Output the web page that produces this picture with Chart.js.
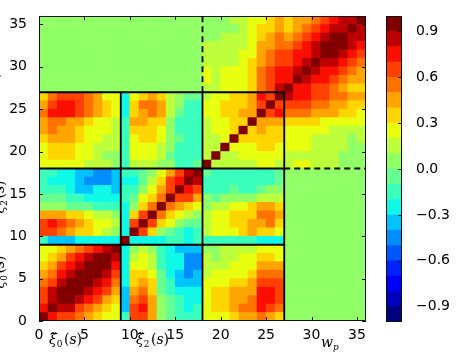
<!DOCTYPE html>
<html lang="en">
<head>
<meta charset="UTF-8">
<title>Correlation matrix</title>
<script src="https://cdn.jsdelivr.net/npm/chart.js"></script>
<style>
  html, body { margin: 0; padding: 0; background: #fff; }
  #wrap { position: relative; width: 464px; height: 357px; }
  canvas { position: absolute; left: 0; top: 0; }
</style>
</head>
<body>
<div id="wrap">
  <canvas id="heat" width="464" height="357"></canvas>
  <canvas id="cbar" width="464" height="357"></canvas>
</div>
<script>
// tick labels
const xTicks = [0, 5, 10, 15, 20, 25, 30, 35];
const yTicks = [0, 5, 10, 15, 20, 25, 30, 35];
const cbTicks = [-0.9, -0.6, -0.3, 0, 0.3, 0.6, 0.9];
// colour levels of the colorbar (20 bands from -1 to 1)
const levelEdges = [-1, -0.9, -0.8, -0.7, -0.6, -0.5, -0.4, -0.3, -0.2, -0.1, 0,
                    0.1, 0.2, 0.3, 0.4, 0.5, 0.6, 0.7, 0.8, 0.9, 1];
// block boundaries: xi0 | xi2 | third block | w_p
const blockEdges = [9, 18, 27];
const nCells = 36;

// corr[j][i] : row j = y band j (bottom to top), column i = x band i
const corr = [
  [1,0.75,0.65,0.65,0.55,0.45,0.35,0.25,0.25,  -0.15,0.65,0.65,0.45,0.05,-0.05,-0.15,-0.15,-0.15,  0.25,0.25,0.25,0.35,0.45,0.45,0.55,0.45,0.35,  0.05,0.05,0.05,0.05,0.05,0.05,0.05,0.05,0.05],
  [0.75,1,0.85,0.85,0.65,0.55,0.45,0.35,0.25,  -0.35,0.65,0.75,0.45,0.05,-0.05,-0.15,-0.25,-0.15,  0.25,0.35,0.35,0.45,0.55,0.55,0.75,0.65,0.55,  0.05,0.05,0.05,0.05,0.05,0.05,0.05,0.05,0.05],
  [0.65,0.85,1,0.95,0.85,0.75,0.65,0.45,0.35,  -0.35,0.55,0.65,0.45,0.05,-0.05,-0.15,-0.25,-0.25,  0.25,0.35,0.35,0.45,0.45,0.55,0.75,0.75,0.65,  0.05,0.05,0.05,0.05,0.05,0.05,0.05,0.05,0.05],
  [0.65,0.85,0.95,1,0.95,0.85,0.75,0.65,0.45,  -0.35,0.45,0.55,0.35,-0.05,-0.15,-0.25,-0.25,-0.25,  0.25,0.35,0.35,0.45,0.45,0.45,0.75,0.75,0.65,  0.05,0.05,0.05,0.05,0.05,0.05,0.05,0.05,0.05],
  [0.55,0.65,0.85,0.95,1,0.95,0.85,0.75,0.55,  -0.25,0.35,0.45,0.35,-0.05,-0.15,-0.35,-0.35,-0.35,  0.25,0.25,0.25,0.35,0.35,0.45,0.65,0.65,0.65,  0.05,0.05,0.05,0.05,0.05,0.05,0.05,0.05,0.05],
  [0.45,0.55,0.75,0.85,0.95,1,0.95,0.85,0.65,  -0.25,0.35,0.35,0.25,-0.05,-0.25,-0.35,-0.45,-0.35,  0.15,0.25,0.25,0.25,0.25,0.35,0.55,0.55,0.55,  0.05,0.05,0.05,0.05,0.05,0.05,0.05,0.05,0.05],
  [0.35,0.45,0.65,0.75,0.85,0.95,1,0.95,0.75,  -0.25,0.25,0.25,0.15,-0.15,-0.25,-0.25,-0.45,-0.45,  0.15,0.15,0.15,0.25,0.25,0.25,0.45,0.45,0.45,  0.05,0.05,0.05,0.05,0.05,0.05,0.05,0.05,0.05],
  [0.25,0.35,0.45,0.65,0.75,0.85,0.95,1,0.85,  -0.25,0.15,0.25,0.15,-0.15,-0.25,-0.25,-0.45,-0.45,  0.15,0.05,0.15,0.15,0.25,0.25,0.35,0.35,0.25,  0.05,0.05,0.05,0.05,0.05,0.05,0.05,0.05,0.05],
  [0.25,0.25,0.35,0.45,0.55,0.65,0.75,0.85,1,  -0.25,0.05,0.15,0.05,-0.15,-0.25,-0.35,-0.35,-0.35,  0.05,0.05,0.15,0.15,0.15,0.15,0.25,0.25,0.25,  0.05,0.05,0.05,0.05,0.05,0.05,0.05,0.05,0.05],
  [-0.15,-0.35,-0.35,-0.35,-0.25,-0.25,-0.25,-0.25,-0.25,  1,-0.25,-0.25,-0.25,-0.25,-0.15,-0.15,-0.25,-0.15,  -0.15,-0.15,-0.15,-0.15,-0.15,-0.15,-0.25,-0.25,-0.25,  0.05,0.05,0.05,0.05,0.05,0.05,0.05,0.05,0.05],
  [0.65,0.65,0.55,0.45,0.35,0.35,0.25,0.15,0.05,  -0.25,1,0.65,0.35,0.05,-0.05,-0.15,-0.25,-0.15,  0.15,0.25,0.25,0.25,0.35,0.45,0.35,0.35,0.25,  0.05,0.05,0.05,0.05,0.05,0.05,0.05,0.05,0.05],
  [0.65,0.75,0.65,0.55,0.45,0.35,0.25,0.25,0.15,  -0.25,0.65,1,0.65,0.35,0.25,0.05,-0.05,-0.05,  0.15,0.25,0.25,0.35,0.35,0.45,0.45,0.55,0.35,  0.05,0.05,0.05,0.05,0.05,0.05,0.05,0.05,0.05],
  [0.45,0.45,0.45,0.35,0.35,0.25,0.15,0.15,0.05,  -0.25,0.35,0.65,1,0.55,0.35,0.25,0.15,0.05,  0.15,0.25,0.25,0.35,0.35,0.35,0.55,0.55,0.45,  0.05,0.05,0.05,0.05,0.05,0.05,0.05,0.05,0.05],
  [0.05,0.05,0.05,-0.05,-0.05,-0.05,-0.15,-0.15,-0.15,  -0.25,0.05,0.35,0.55,1,0.55,0.45,0.35,0.25,  0.05,0.15,0.15,0.25,0.25,0.35,0.45,0.45,0.35,  0.05,0.05,0.05,0.05,0.05,0.05,0.05,0.05,0.05],
  [-0.05,-0.05,-0.05,-0.15,-0.15,-0.25,-0.25,-0.25,-0.25,  -0.15,-0.05,0.25,0.35,0.55,1,0.65,0.65,0.45,  0.05,-0.05,0.05,0.05,0.05,0.05,0.15,0.15,0.15,  0.05,0.05,0.05,0.05,0.05,0.05,0.05,0.05,0.05],
  [-0.15,-0.15,-0.15,-0.25,-0.35,-0.35,-0.25,-0.25,-0.35,  -0.15,-0.15,0.05,0.25,0.45,0.65,1,0.75,0.65,  -0.15,-0.15,-0.15,-0.05,-0.15,-0.15,-0.05,0.05,0.05,  0.05,0.05,0.05,0.05,0.05,0.05,0.05,0.05,0.05],
  [-0.15,-0.25,-0.25,-0.25,-0.35,-0.45,-0.45,-0.45,-0.35,  -0.25,-0.25,-0.05,0.15,0.35,0.65,0.75,1,0.85,  -0.15,-0.15,-0.15,-0.15,-0.15,-0.15,-0.15,-0.15,-0.05,  0.05,0.05,0.05,0.05,0.05,0.05,0.05,0.05,0.05],
  [-0.15,-0.15,-0.25,-0.25,-0.35,-0.35,-0.45,-0.45,-0.35,  -0.15,-0.15,-0.05,0.05,0.25,0.45,0.65,0.85,1,  -0.05,-0.15,-0.15,-0.15,-0.15,-0.15,-0.15,-0.15,-0.05,  0.05,0.05,0.05,0.05,0.05,0.05,0.05,0.05,0.05],
  [0.25,0.25,0.25,0.25,0.25,0.15,0.15,0.15,0.05,  -0.15,0.15,0.15,0.15,0.05,0.05,-0.15,-0.15,-0.05,  1,0.15,0.15,0.15,0.15,0.15,0.25,0.25,0.15,  0.15,0.25,0.25,0.15,0.15,0.15,0.05,0.05,0.05],
  [0.25,0.35,0.35,0.35,0.25,0.25,0.15,0.05,0.05,  -0.15,0.25,0.25,0.25,0.15,-0.05,-0.15,-0.15,-0.15,  0.15,1,0.15,0.15,0.25,0.25,0.25,0.25,0.25,  0.15,0.15,0.15,0.15,0.15,0.15,0.05,0.05,0.05],
  [0.25,0.35,0.35,0.35,0.25,0.25,0.15,0.15,0.15,  -0.15,0.25,0.25,0.25,0.15,0.05,-0.15,-0.15,-0.15,  0.15,0.15,1,0.25,0.25,0.25,0.35,0.35,0.25,  0.25,0.25,0.25,0.15,0.15,0.15,0.15,0.05,0.05],
  [0.35,0.45,0.45,0.45,0.35,0.25,0.25,0.15,0.15,  -0.15,0.25,0.35,0.35,0.25,0.05,-0.05,-0.15,-0.15,  0.15,0.15,0.25,1,0.35,0.35,0.35,0.35,0.35,  0.25,0.25,0.25,0.15,0.15,0.15,0.15,0.05,0.15],
  [0.45,0.55,0.45,0.45,0.35,0.25,0.25,0.25,0.15,  -0.15,0.35,0.35,0.35,0.25,0.05,-0.15,-0.15,-0.15,  0.15,0.25,0.25,0.35,1,0.35,0.45,0.35,0.35,  0.25,0.25,0.25,0.25,0.25,0.15,0.15,0.15,0.15],
  [0.45,0.55,0.55,0.45,0.45,0.35,0.25,0.25,0.15,  -0.15,0.45,0.45,0.35,0.35,0.05,-0.15,-0.15,-0.15,  0.15,0.25,0.25,0.35,0.35,1,0.45,0.45,0.45,  0.35,0.35,0.35,0.35,0.25,0.25,0.25,0.25,0.25],
  [0.55,0.75,0.75,0.75,0.65,0.55,0.45,0.35,0.25,  -0.25,0.35,0.45,0.55,0.45,0.15,-0.05,-0.15,-0.15,  0.25,0.25,0.35,0.35,0.45,0.45,1,0.65,0.75,  0.55,0.55,0.55,0.45,0.45,0.45,0.35,0.35,0.25],
  [0.45,0.65,0.75,0.75,0.65,0.55,0.45,0.35,0.25,  -0.25,0.35,0.55,0.55,0.45,0.15,0.05,-0.15,-0.15,  0.25,0.25,0.35,0.35,0.35,0.45,0.65,1,0.65,  0.65,0.65,0.65,0.55,0.55,0.45,0.45,0.35,0.35],
  [0.35,0.55,0.65,0.65,0.65,0.55,0.45,0.25,0.25,  -0.25,0.25,0.35,0.45,0.35,0.15,0.05,-0.05,-0.05,  0.15,0.25,0.25,0.35,0.35,0.45,0.75,0.65,1,  0.85,0.75,0.75,0.65,0.65,0.55,0.55,0.45,0.45],
  [0.05,0.05,0.05,0.05,0.05,0.05,0.05,0.05,0.05,  0.05,0.05,0.05,0.05,0.05,0.05,0.05,0.05,0.05,  0.15,0.15,0.25,0.25,0.25,0.35,0.55,0.65,0.85,  1,0.75,0.75,0.65,0.65,0.55,0.45,0.35,0.35],
  [0.05,0.05,0.05,0.05,0.05,0.05,0.05,0.05,0.05,  0.05,0.05,0.05,0.05,0.05,0.05,0.05,0.05,0.05,  0.25,0.15,0.25,0.25,0.25,0.35,0.55,0.65,0.75,  0.75,1,0.85,0.75,0.75,0.65,0.55,0.45,0.45],
  [0.05,0.05,0.05,0.05,0.05,0.05,0.05,0.05,0.05,  0.05,0.05,0.05,0.05,0.05,0.05,0.05,0.05,0.05,  0.25,0.15,0.25,0.25,0.25,0.35,0.55,0.65,0.75,  0.75,0.85,1,0.85,0.75,0.75,0.65,0.55,0.45],
  [0.05,0.05,0.05,0.05,0.05,0.05,0.05,0.05,0.05,  0.05,0.05,0.05,0.05,0.05,0.05,0.05,0.05,0.05,  0.15,0.15,0.15,0.15,0.25,0.35,0.45,0.55,0.65,  0.65,0.75,0.85,1,0.85,0.85,0.75,0.65,0.55],
  [0.05,0.05,0.05,0.05,0.05,0.05,0.05,0.05,0.05,  0.05,0.05,0.05,0.05,0.05,0.05,0.05,0.05,0.05,  0.15,0.15,0.15,0.15,0.25,0.25,0.45,0.55,0.65,  0.65,0.75,0.75,0.85,1,0.95,0.85,0.75,0.65],
  [0.05,0.05,0.05,0.05,0.05,0.05,0.05,0.05,0.05,  0.05,0.05,0.05,0.05,0.05,0.05,0.05,0.05,0.05,  0.15,0.15,0.15,0.15,0.15,0.25,0.45,0.45,0.55,  0.55,0.65,0.75,0.85,0.95,1,0.95,0.85,0.75],
  [0.05,0.05,0.05,0.05,0.05,0.05,0.05,0.05,0.05,  0.05,0.05,0.05,0.05,0.05,0.05,0.05,0.05,0.05,  0.05,0.05,0.15,0.15,0.15,0.25,0.35,0.45,0.55,  0.45,0.55,0.65,0.75,0.85,0.95,1,0.85,0.85],
  [0.05,0.05,0.05,0.05,0.05,0.05,0.05,0.05,0.05,  0.05,0.05,0.05,0.05,0.05,0.05,0.05,0.05,0.05,  0.05,0.05,0.05,0.05,0.15,0.25,0.35,0.35,0.45,  0.35,0.45,0.55,0.65,0.75,0.85,0.85,1,0.85],
  [0.05,0.05,0.05,0.05,0.05,0.05,0.05,0.05,0.05,  0.05,0.05,0.05,0.05,0.05,0.05,0.05,0.05,0.05,  0.05,0.05,0.05,0.15,0.15,0.25,0.25,0.35,0.45,  0.35,0.45,0.45,0.55,0.65,0.75,0.85,0.85,1]
];

// jet colormap (matplotlib segment data)
const jetR = [[0, 0], [0.35, 0], [0.66, 1], [0.89, 1], [1, 0.5]];
const jetG = [[0, 0], [0.125, 0], [0.375, 1], [0.64, 1], [0.91, 0], [1, 0]];
const jetB = [[0, 0.5], [0.11, 1], [0.34, 1], [0.65, 0], [1, 0]];

function interp(x, pts) {
  for (let i = 1; i < pts.length; i++) {
    if (x <= pts[i][0]) {
      const [x0, v0] = pts[i - 1], [x1, v1] = pts[i];
      return v0 + (v1 - v0) * (x - x0) / (x1 - x0);
    }
  }
  return pts[pts.length - 1][1];
}

const nLevels = levelEdges.length - 1;
function levelColor(k) {
  const t = k / (nLevels - 1);
  const c = [jetR, jetG, jetB].map(p => Math.round(255 * interp(t, p)));
  return `rgb(${c[0]},${c[1]},${c[2]})`;
}
function colorFor(v) {
  let k = Math.floor((v - levelEdges[0]) / (levelEdges[nLevels] - levelEdges[0]) * nLevels);
  k = Math.max(0, Math.min(nLevels - 1, k));
  return levelColor(k);
}

const FONT = 'DejaVu Sans';

// draws a small math-like label, pieces = [text, font, dy, extra gap]
function drawMath(ctx, x, y, pieces, rotated) {
  ctx.save();
  ctx.translate(x, y);
  if (rotated) ctx.rotate(-Math.PI / 2);
  ctx.fillStyle = '#000';
  ctx.textAlign = 'left';
  ctx.textBaseline = 'alphabetic';
  let total = 0;
  const widths = pieces.map(p => { ctx.font = p[1]; const w = ctx.measureText(p[0]).width + (p[3] || 0); total += w; return w; });
  let cx = rotated ? -total / 2 : 0;
  pieces.forEach((p, i) => {
    ctx.font = p[1];
    ctx.fillText(p[0], cx, p[2]);
    cx += widths[i];
  });
  ctx.restore();
}

const itBig = 'italic 14px "DejaVu Serif"';
const upBig = '14px "DejaVu Serif"';
const upSub = '9px "DejaVu Serif"';
const itSub = 'italic 9px "DejaVu Serif"';
const xiLabel = sub => [['\u03BE\u0303', itBig, 0], [sub, upSub, 3, 1.5], ['(', upBig, 0], ['s', itBig, 0], [')', upBig, 0]];
const wLabel = [['w', itBig, 0], ['p', itSub, 3]];

const heatDecor = {
  id: 'heatDecor',
  afterDraw(chart) {
    const { ctx, chartArea: a, scales: { x, y } } = chart;
    const line = (x1, y1, x2, y2) => { ctx.beginPath(); ctx.moveTo(x1, y1); ctx.lineTo(x2, y2); ctx.stroke(); };
    ctx.save();
    // block separators
    ctx.strokeStyle = '#000';
    ctx.lineWidth = 1.8;
    const last = blockEdges[blockEdges.length - 1];
    blockEdges.forEach(e => {
      line(x.getPixelForValue(e), y.getPixelForValue(0), x.getPixelForValue(e), y.getPixelForValue(last));
      line(x.getPixelForValue(0), y.getPixelForValue(e), x.getPixelForValue(last), y.getPixelForValue(e));
    });
    ctx.setLineDash([6, 4]);
    line(x.getPixelForValue(blockEdges[1]), y.getPixelForValue(last), x.getPixelForValue(blockEdges[1]), y.getPixelForValue(nCells));
    line(x.getPixelForValue(last), y.getPixelForValue(blockEdges[1]), x.getPixelForValue(nCells), y.getPixelForValue(blockEdges[1]));
    ctx.setLineDash([]);
    // frame and inward ticks
    ctx.lineWidth = 1;
    ctx.strokeStyle = '#111';
    ctx.strokeRect(a.left + 0.5, a.top + 0.5, a.right - a.left - 1, a.bottom - a.top - 1);
    xTicks.forEach(v => {
      const p = Math.round(x.getPixelForValue(v)) + 0.5;
      line(p, a.bottom, p, a.bottom - 4);
      line(p, a.top, p, a.top + 4);
    });
    yTicks.forEach(v => {
      const p = Math.round(y.getPixelForValue(v)) + 0.5;
      line(a.left, p, a.left + 4, p);
      line(a.right, p, a.right - 4, p);
    });
    // axis block labels
    drawMath(ctx, 49, 344, xiLabel('0'));
    drawMath(ctx, 136, 344, xiLabel('2'));
    drawMath(ctx, 321, 347, wLabel);
    drawMath(ctx, 4, 272, xiLabel('0'), true);
    drawMath(ctx, 4, 197, xiLabel('2'), true);
    drawMath(ctx, -4, 80, wLabel, true);
    ctx.restore();
  }
};

const datasets = corr.map((row, j) => ({
  data: row.map((v, i) => ({ x: i + 0.5, y: [j, j + 1] })),
  backgroundColor: row.map(colorFor),
  borderWidth: 0,
  grouped: false,
  barPercentage: 1,
  categoryPercentage: 1
}));

new Chart(document.getElementById('heat'), {
  type: 'bar',
  data: { datasets },
  options: {
    responsive: false,
    animation: false,
    devicePixelRatio: 1,
    layout: { padding: { left: 0, top: 16, right: 98, bottom: 0 } },
    plugins: { legend: { display: false }, tooltip: { enabled: false } },
    scales: {
      x: {
        type: 'linear', min: 0, max: nCells, offset: false,
        grid: { display: false, offset: false }, border: { display: false },
        afterBuildTicks: s => { s.ticks = xTicks.map(v => ({ value: v })); },
        afterFit: s => { s.height = 36; },
        ticks: { color: '#000', font: { family: FONT, size: 14 }, padding: -2, maxRotation: 0, autoSkip: false }
      },
      y: {
        type: 'linear', min: 0, max: nCells,
        grid: { display: false }, border: { display: false },
        afterBuildTicks: s => { s.ticks = yTicks.map(v => ({ value: v })); },
        afterFit: s => { s.width = 39; },
        ticks: { color: '#000', font: { family: FONT, size: 14 }, padding: 4, autoSkip: false }
      }
    }
  },
  plugins: [heatDecor]
});

// colorbar
const cbDatasets = levelEdges.slice(0, -1).map((lo, k) => ({
  data: [[lo, levelEdges[k + 1]]],
  backgroundColor: levelColor(k),
  borderWidth: 0,
  grouped: false,
  barPercentage: 1,
  categoryPercentage: 1
}));

const cbDecor = {
  id: 'cbDecor',
  afterDraw(chart) {
    const { ctx, chartArea: a, scales: { y } } = chart;
    ctx.save();
    ctx.strokeStyle = '#111';
    ctx.lineWidth = 1;
    ctx.strokeRect(a.left + 0.5, a.top + 0.5, a.right - a.left - 1, a.bottom - a.top - 1);
    cbTicks.forEach(v => {
      const p = Math.round(y.getPixelForValue(v)) + 0.5;
      ctx.beginPath();
      ctx.moveTo(a.right, p);
      ctx.lineTo(a.right - 4, p);
      ctx.stroke();
    });
    ctx.restore();
  }
};

new Chart(document.getElementById('cbar'), {
  type: 'bar',
  data: { labels: [''], datasets: cbDatasets },
  options: {
    responsive: false,
    animation: false,
    devicePixelRatio: 1,
    events: [],
    layout: { padding: { left: 386, top: 16, right: 0, bottom: 35 } },
    plugins: { legend: { display: false }, tooltip: { enabled: false } },
    scales: {
      x: { display: false },
      y: {
        position: 'right', min: -1, max: 1,
        grid: { display: false }, border: { display: false },
        afterBuildTicks: s => { s.ticks = cbTicks.map(v => ({ value: v })); },
        afterFit: s => { s.width = 62; },
        ticks: {
          color: '#000', font: { family: FONT, size: 14 }, padding: 6,
          callback: v => (v < 0 ? '\u2212' : '') + Math.abs(v).toFixed(1)
        }
      }
    }
  },
  plugins: [cbDecor]
});
</script>
</body>
</html>
